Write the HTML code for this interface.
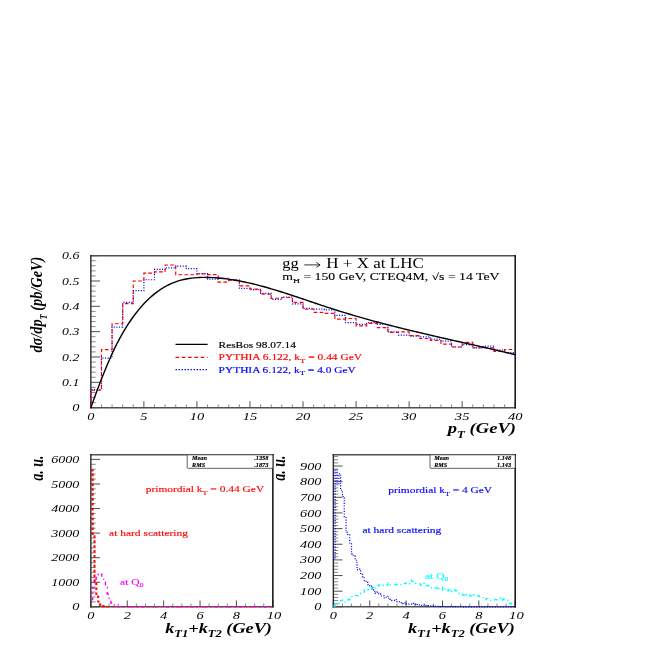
<!DOCTYPE html>
<html><head><meta charset="utf-8"><title>plot</title>
<style>html,body{margin:0;padding:0;background:#fff;overflow:hidden;width:654px;height:654px;}svg{display:block;}text{font-family:"Liberation Serif",serif;stroke-linejoin:round;}</style>
</head><body>
<svg width="654" height="654" viewBox="0 0 654 654" style="will-change:transform">
<rect width="654" height="654" fill="#fff"/>
<g id="top">
<path d="M90.85 402.58h4.8M90.85 397.52h4.8M90.85 392.45h4.8M90.85 387.38h4.8M90.85 377.25h4.8M90.85 372.18h4.8M90.85 367.12h4.8M90.85 362.05h4.8M90.85 351.92h4.8M90.85 346.85h4.8M90.85 341.78h4.8M90.85 336.72h4.8M90.85 326.58h4.8M90.85 321.52h4.8M90.85 316.45h4.8M90.85 311.38h4.8M90.85 301.25h4.8M90.85 296.18h4.8M90.85 291.12h4.8M90.85 286.05h4.8M90.85 275.92h4.8M90.85 270.85h4.8M90.85 265.78h4.8M90.85 260.72h4.8M101.46 407.65v-3.2M112.07 407.65v-3.2M122.68 407.65v-3.2M133.28 407.65v-3.2M154.5 407.65v-3.2M165.11 407.65v-3.2M175.72 407.65v-3.2M186.33 407.65v-3.2M207.55 407.65v-3.2M218.16 407.65v-3.2M228.76 407.65v-3.2M239.37 407.65v-3.2M260.59 407.65v-3.2M271.2 407.65v-3.2M281.81 407.65v-3.2M292.42 407.65v-3.2M313.63 407.65v-3.2M324.24 407.65v-3.2M334.85 407.65v-3.2M345.46 407.65v-3.2M366.68 407.65v-3.2M377.29 407.65v-3.2M387.89 407.65v-3.2M398.5 407.65v-3.2M419.72 407.65v-3.2M430.33 407.65v-3.2M440.94 407.65v-3.2M451.55 407.65v-3.2M472.76 407.65v-3.2M483.37 407.65v-3.2M493.98 407.65v-3.2M504.59 407.65v-3.2" stroke="#6a6a6a" stroke-width="0.8" fill="none"/>
<path d="M90.85 407.65h9.2M90.85 382.32h9.2M90.85 356.98h9.2M90.85 331.65h9.2M90.85 306.32h9.2M90.85 280.98h9.2M90.85 255.65h9.2M90.85 407.65v-6.4M143.89 407.65v-6.4M196.94 407.65v-6.4M249.98 407.65v-6.4M303.02 407.65v-6.4M356.07 407.65v-6.4M409.11 407.65v-6.4M462.16 407.65v-6.4M515.2 407.65v-6.4" stroke="#3c3c3c" stroke-width="0.9" fill="none"/>
<path d="M90.15 255.65H516M90.15 407.65H516" stroke="#505050" stroke-width="1.5" fill="none"/>
<path d="M90.85 254.9V408.4" stroke="#2a2a2a" stroke-width="1.4" fill="none"/>
<path d="M515.2 254.9V408.4" stroke="#1c1c1c" stroke-width="1.6" fill="none"/>
<path d="M90.85 407.65V389.56H101.46V358.16H112.07V327.19H122.68V302.41H133.28V290.65H143.89V279.73H154.5V269.4H165.11V267.89H175.72V266.2H186.33V268.65H196.94V273.54H207.55V279.23H218.16V278.47H228.76V280.11H239.37V288.3H249.98V289.66H260.59V293.34H271.2V299.44H281.81V297H292.42V303.85H303.02V308.46H313.63V309.22H324.24V309.97H334.85V315.34H345.46V322.68H356.07V324.34H366.68V322.68H377.29V324.46H387.89V331.9H398.5V335.07H409.11V336.06H419.72V336.79H430.33V339.21H440.94V341.22H451.55V347.02H462.16V344.6H472.76V347.78H483.37V346.09H493.98V350.22H504.59V352.69H515.2" stroke="#00f" stroke-width="1.2" stroke-dasharray="1.1 1.55" fill="none"/>
<path d="M90.85 407.65V390.24H101.46V349.64H112.07V323.76H122.68V303.67H133.28V280.99H143.89V273.06H154.5V271.92H165.11V264.99H175.72V274.77H186.33V274.77H196.94V273.94H207.55V274.69H218.16V282.1H228.76V280.11H239.37V285.91H249.98V289.18H260.59V294.1H271.2V298.21H281.81V297.48H292.42V302.41H303.02V309.22H313.63V312.42H324.24V313.38H334.85V319.05H345.46V318.54H356.07V325.85H366.68V323.41H377.29V327.56H387.89V332.4H398.5V331.9H409.11V335.58H419.72V338.45H430.33V340.47H440.94V344.12H451.55V347.02H462.16V342.41H472.76V347.78H483.37V347.78H493.98V351.48H504.59V349.54H515.2" stroke="#f00" stroke-width="1.15" stroke-dasharray="3.7 2.3" fill="none"/>
<path d="M90.85 407.65L93.5 400.33L96.15 393.11L98.81 386.03L101.46 379.12L104.11 372.4L106.76 365.91L109.42 359.68L112.07 353.74L114.72 348.11L117.37 342.81L120.02 337.81L122.68 333.1L125.33 328.65L127.98 324.45L130.63 320.49L133.28 316.74L135.94 313.2L138.59 309.87L141.24 306.74L143.89 303.8L146.55 301.04L149.2 298.48L151.85 296.09L154.5 293.87L157.15 291.83L159.81 289.95L162.46 288.23L165.11 286.67L167.76 285.25L170.42 283.98L173.07 282.84L175.72 281.83L178.37 280.94L181.02 280.17L183.68 279.52L186.33 278.96L188.98 278.5L191.63 278.13L194.29 277.84L196.94 277.63L199.59 277.49L202.24 277.42L204.89 277.4L207.55 277.43L210.2 277.51L212.85 277.63L215.5 277.79L218.16 277.99L220.81 278.23L223.46 278.51L226.11 278.83L228.76 279.18L231.42 279.57L234.07 279.99L236.72 280.45L239.37 280.93L242.02 281.45L244.68 281.99L247.33 282.57L249.98 283.17L252.63 283.79L255.29 284.44L257.94 285.12L260.59 285.81L263.24 286.53L265.89 287.27L268.55 288.02L271.2 288.8L273.85 289.59L276.5 290.39L279.16 291.21L281.81 292.04L284.46 292.89L287.11 293.74L289.76 294.6L292.42 295.48L295.07 296.36L297.72 297.24L300.37 298.13L303.02 299.03L305.68 299.93L308.33 300.82L310.98 301.72L313.63 302.62L316.29 303.52L318.94 304.41L321.59 305.3L324.24 306.18L326.89 307.06L329.55 307.93L332.2 308.79L334.85 309.64L337.5 310.48L340.16 311.31L342.81 312.13L345.46 312.95L348.11 313.75L350.76 314.54L353.42 315.33L356.07 316.1L358.72 316.87L361.37 317.63L364.03 318.38L366.68 319.12L369.33 319.86L371.98 320.59L374.63 321.31L377.29 322.02L379.94 322.73L382.59 323.43L385.24 324.12L387.89 324.81L390.55 325.5L393.2 326.17L395.85 326.84L398.5 327.51L401.16 328.17L403.81 328.82L406.46 329.47L409.11 330.12L411.76 330.76L414.42 331.4L417.07 332.03L419.72 332.66L422.37 333.29L425.03 333.91L427.68 334.53L430.33 335.15L432.98 335.76L435.63 336.38L438.29 336.99L440.94 337.59L443.59 338.2L446.24 338.8L448.9 339.4L451.55 340.01L454.2 340.61L456.85 341.21L459.5 341.8L462.16 342.4L464.81 343L467.46 343.6L470.11 344.2L472.76 344.79L475.42 345.39L478.07 345.99L480.72 346.59L483.37 347.2L486.03 347.8L488.68 348.4L491.33 349.01L493.98 349.62L496.63 350.23L499.29 350.84L501.94 351.46L504.59 352.08L507.24 352.7L509.9 353.32L512.55 353.95L515.2 354.59" stroke="#000" stroke-width="1.4" fill="none" stroke-linejoin="round"/>
<text transform="translate(72.2 411.2) scale(1.3714 1)" font-size="10.5" fill="#000" font-style="italic">0</text>
<text transform="translate(62.1 385.87) scale(1.3181 1)" font-size="10.5" fill="#000" font-style="italic">0.1</text>
<text transform="translate(62.1 360.53) scale(1.3181 1)" font-size="10.5" fill="#000" font-style="italic">0.2</text>
<text transform="translate(62.1 335.2) scale(1.3181 1)" font-size="10.5" fill="#000" font-style="italic">0.3</text>
<text transform="translate(62.1 309.87) scale(1.3181 1)" font-size="10.5" fill="#000" font-style="italic">0.4</text>
<text transform="translate(62.1 284.53) scale(1.3181 1)" font-size="10.5" fill="#000" font-style="italic">0.5</text>
<text transform="translate(62.1 259.2) scale(1.3181 1)" font-size="10.5" fill="#000" font-style="italic">0.6</text>
<text transform="translate(87.25 420.4) scale(1.3714 1)" font-size="10.5" fill="#000" font-style="italic">0</text>
<text transform="translate(140.29 420.4) scale(1.3714 1)" font-size="10.5" fill="#000" font-style="italic">5</text>
<text transform="translate(189.64 420.4) scale(1.3905 1)" font-size="10.5" fill="#000" font-style="italic">10</text>
<text transform="translate(242.68 420.4) scale(1.3905 1)" font-size="10.5" fill="#000" font-style="italic">15</text>
<text transform="translate(295.72 420.4) scale(1.3905 1)" font-size="10.5" fill="#000" font-style="italic">20</text>
<text transform="translate(348.77 420.4) scale(1.3905 1)" font-size="10.5" fill="#000" font-style="italic">25</text>
<text transform="translate(401.81 420.4) scale(1.3905 1)" font-size="10.5" fill="#000" font-style="italic">30</text>
<text transform="translate(454.86 420.4) scale(1.3905 1)" font-size="10.5" fill="#000" font-style="italic">35</text>
<text transform="translate(507.9 420.4) scale(1.3905 1)" font-size="10.5" fill="#000" font-style="italic">40</text>
<text transform="translate(447.8 433.2) scale(1.2814 1)" font-size="14.5" fill="#000" font-style="italic" font-weight="bold">p<tspan font-size="10" dy="5">T</tspan><tspan dy="-5"> (GeV)</tspan></text>
<text transform="translate(41.8 352.6) rotate(-90) scale(0.8947 1)" font-size="16" fill="#000" font-style="italic" font-weight="bold">dσ/dp<tspan font-size="9.5" dy="5">T</tspan><tspan dy="-5"> (pb/GeV)</tspan></text>
<text transform="translate(282.3 268.3) scale(1.2132 1)" font-size="13.6" fill="#000">gg</text>
<path d="M304.3 264.9H319.8M316.3 262.4L320.1 264.9L316.3 267.4" stroke="#000" stroke-width="0.8" fill="none"/>
<text transform="translate(326.3 268.3) scale(1.2524 1)" font-size="13.6" fill="#000">H + X at LHC</text>
<text transform="translate(282.3 279.6) scale(1.4193 1)" font-size="9.7" fill="#000" stroke="#000" stroke-width="0.1">m<tspan font-size="6.8" dy="3">H</tspan><tspan dy="-3"> = 150 GeV, CTEQ4M, √s = 14 TeV</tspan></text>
<path d="M175.5 344.3H207.6" stroke="#000" stroke-width="1.2"/>
<path d="M175.5 357.4H207.6" stroke="#f00" stroke-width="1.3" stroke-dasharray="3.6 2.7"/>
<path d="M175.5 369.6H207.6" stroke="#00f" stroke-width="1.3" stroke-dasharray="1.4 1.6"/>
<text transform="translate(218.6 347.5) scale(1.3379 1)" font-size="8.5" fill="#000" stroke="#000" stroke-width="0.16">ResBos 98.07.14</text>
<text transform="translate(218.6 360.1) scale(1.3482 1)" font-size="8.5" fill="#f00" stroke="#f00" stroke-width="0.16">PYTHIA 6.122, k<tspan font-size="6.5" dy="2.5">T</tspan><tspan dy="-2.5"> = 0.44 GeV</tspan></text>
<text transform="translate(218.6 372.6) scale(1.3436 1)" font-size="8.5" fill="#00f" stroke="#00f" stroke-width="0.16">PYTHIA 6.122, k<tspan font-size="6.5" dy="2.5">T</tspan><tspan dy="-2.5"> = 4.0 GeV</tspan></text>
</g>
<g id="bl">
<path d="M90.85 601.94h4.8M90.85 597.02h4.8M90.85 592.11h4.8M90.85 587.19h4.8M90.85 577.36h4.8M90.85 572.45h4.8M90.85 567.53h4.8M90.85 562.62h4.8M90.85 552.79h4.8M90.85 547.87h4.8M90.85 542.96h4.8M90.85 538.04h4.8M90.85 528.21h4.8M90.85 523.3h4.8M90.85 518.38h4.8M90.85 513.47h4.8M90.85 503.63h4.8M90.85 498.72h4.8M90.85 493.81h4.8M90.85 488.89h4.8M90.85 479.06h4.8M90.85 474.14h4.8M90.85 469.23h4.8M90.85 464.32h4.8M99.95 606.85v-3.3M109.05 606.85v-3.3M118.15 606.85v-3.3M136.35 606.85v-3.3M145.45 606.85v-3.3M154.55 606.85v-3.3M172.75 606.85v-3.3M181.85 606.85v-3.3M190.95 606.85v-3.3M209.15 606.85v-3.3M218.25 606.85v-3.3M227.35 606.85v-3.3M245.55 606.85v-3.3M254.65 606.85v-3.3M263.75 606.85v-3.3" stroke="#6a6a6a" stroke-width="0.8" fill="none"/>
<path d="M90.85 606.85h9.2M90.85 582.27h9.2M90.85 557.7h9.2M90.85 533.12h9.2M90.85 508.55h9.2M90.85 483.98h9.2M90.85 459.4h9.2M90.85 606.85v-6.4M127.25 606.85v-6.4M163.65 606.85v-6.4M200.05 606.85v-6.4M236.45 606.85v-6.4M272.85 606.85v-6.4" stroke="#3c3c3c" stroke-width="0.9" fill="none"/>
<path d="M90.15 454.8H273.65M90.15 606.85H273.65" stroke="#505050" stroke-width="1.5" fill="none"/>
<path d="M90.85 454.05V607.6" stroke="#2a2a2a" stroke-width="1.4" fill="none"/>
<path d="M272.85 454.05V607.6" stroke="#1c1c1c" stroke-width="1.6" fill="none"/>
<path d="M90.85 470.46H92.67V536.22H94.49V580.97H96.31V594.07H98.13V601.62H99.95V604.71H101.77V605.99H103.59V606.48H105.41V606.73H107.23" stroke="#f00" stroke-width="2" stroke-dasharray="2.6 2.3" fill="none"/>
<path d="M107.23 606.85H272.85" stroke="#f00" stroke-width="1.3" stroke-dasharray="2.6 2.3" fill="none" opacity="0.5"/>
<path d="M90.85 599.48H92.67V587.68H94.49V579.08H96.31V574.9H98.13V573.47H99.95V574.17H101.77V577.44H103.59V581.88H105.41V587.48H107.23V593.97H109.05V599.33H110.87V603.06H112.69V604.99H114.51V605.8H116.33V606.34H118.15V606.67H119.97V606.79H121.79V606.85H123.61V606.85H125.43V606.85H127.25V606.85H129.07V606.85H130.89V606.85H132.71V606.85H134.53V606.85H136.35V606.85H138.17V606.85H139.99V606.85H141.81V606.85H143.63V606.85H145.45V606.85H147.27V606.85H149.09V606.85H150.91V606.85H152.73V606.85H154.55V606.85H156.37V606.85H158.19V606.85H160.01V606.85H161.83V606.85H163.65V606.85H165.47V606.85H167.29V606.85H169.11V606.85H170.93V606.85H172.75V606.85H174.57V606.85H176.39V606.85H178.21V606.85H180.03V606.85H181.85V606.85H183.67V606.85H185.49V606.85H187.31V606.85H189.13V606.85H190.95V606.85H192.77V606.85H194.59V606.85H196.41V606.85H198.23V606.85H200.05V606.85H201.87V606.85H203.69V606.85H205.51V606.85H207.33V606.85H209.15V606.85H210.97V606.85H212.79V606.85H214.61V606.85H216.43V606.85H218.25V606.85H220.07V606.85H221.89V606.85H223.71V606.85H225.53V606.85H227.35V606.85H229.17V606.85H230.99V606.85H232.81V606.85H234.63V606.85H236.45V606.85H238.27V606.85H240.09V606.85H241.91V606.85H243.73V606.85H245.55V606.85H247.37V606.85H249.19V606.85H251.01V606.85H252.83V606.85H254.65V606.85H256.47V606.85H258.29V606.85H260.11V606.85H261.93V606.85H263.75V606.85H265.57V606.85H267.39V606.85H269.21V606.85H271.03V606.85H272.85" stroke="#f0f" stroke-width="1.4" stroke-dasharray="3.7 3.65 1.2 3.65" fill="none"/>
<rect x="187.2" y="454.8" width="85.65" height="13.5" fill="#fff" stroke="#3a3a3a" stroke-width="0.8" rx="0.8"/>
<text transform="translate(192.1 459.6) scale(1.1913 1)" font-size="5.2" fill="#000" font-style="italic" font-weight="bold" stroke="#000" stroke-width="0.15">Mean</text>
<text transform="translate(192.1 466.9) scale(1.1835 1)" font-size="5.2" fill="#000" font-style="italic" font-weight="bold" stroke="#000" stroke-width="0.15">RMS</text>
<text transform="translate(254.2 459.6) scale(1.2137 1)" font-size="5.2" fill="#000" font-style="italic" font-weight="bold" stroke="#000" stroke-width="0.15">.1358</text>
<text transform="translate(254.2 466.9) scale(1.2137 1)" font-size="5.2" fill="#000" font-style="italic" font-weight="bold" stroke="#000" stroke-width="0.15">.1873</text>
<text transform="translate(72.2 610.4) scale(1.3714 1)" font-size="10.5" fill="#000" font-style="italic">0</text>
<text transform="translate(51.2 585.82) scale(1.3429 1)" font-size="10.5" fill="#000" font-style="italic">1000</text>
<text transform="translate(51.2 561.25) scale(1.3429 1)" font-size="10.5" fill="#000" font-style="italic">2000</text>
<text transform="translate(51.2 536.67) scale(1.3429 1)" font-size="10.5" fill="#000" font-style="italic">3000</text>
<text transform="translate(51.2 512.1) scale(1.3429 1)" font-size="10.5" fill="#000" font-style="italic">4000</text>
<text transform="translate(51.2 487.53) scale(1.3429 1)" font-size="10.5" fill="#000" font-style="italic">5000</text>
<text transform="translate(51.2 462.95) scale(1.3429 1)" font-size="10.5" fill="#000" font-style="italic">6000</text>
<text transform="translate(87.25 618.9) scale(1.3714 1)" font-size="10.5" fill="#000" font-style="italic">0</text>
<text transform="translate(123.65 618.9) scale(1.3714 1)" font-size="10.5" fill="#000" font-style="italic">2</text>
<text transform="translate(160.05 618.9) scale(1.3714 1)" font-size="10.5" fill="#000" font-style="italic">4</text>
<text transform="translate(196.45 618.9) scale(1.3714 1)" font-size="10.5" fill="#000" font-style="italic">6</text>
<text transform="translate(232.85 618.9) scale(1.3714 1)" font-size="10.5" fill="#000" font-style="italic">8</text>
<text transform="translate(266.75 618.9) scale(1.3905 1)" font-size="10.5" fill="#000" font-style="italic">10</text>
<text transform="translate(165.2 632.5) scale(1.2588 1)" font-size="14.5" fill="#000" font-style="italic" font-weight="bold">k<tspan font-size="10" dy="4.8">T1</tspan><tspan dy="-4.8">+k</tspan><tspan font-size="10" dy="4.8">T2</tspan><tspan dy="-4.8"> (GeV)</tspan></text>
<text transform="translate(43 480.8) rotate(-90) scale(0.7782 1)" font-size="18" fill="#000" font-style="italic" font-weight="bold">a. u.</text>
<text transform="translate(145.7 492.3) scale(1.2449 1)" font-size="9.2" fill="#f00" stroke="#f00" stroke-width="0.14">primordial k<tspan font-size="6.5" dy="2.4">T</tspan><tspan dy="-2.4"> = 0.44 GeV</tspan></text>
<text transform="translate(109.1 536.1) scale(1.2471 1)" font-size="9.2" fill="#f00" stroke="#f00" stroke-width="0.14">at hard scattering</text>
<text transform="translate(120.1 585) scale(1.2592 1)" font-size="9.2" fill="#f0f" stroke="#f0f" stroke-width="0.14">at Q<tspan font-size="6" dy="2">0</tspan></text>
</g>
<g id="br">
<path d="M333.35 603.72h4.8M333.35 600.59h4.8M333.35 597.46h4.8M333.35 594.33h4.8M333.35 588.07h4.8M333.35 584.94h4.8M333.35 581.81h4.8M333.35 578.68h4.8M333.35 572.42h4.8M333.35 569.29h4.8M333.35 566.16h4.8M333.35 563.03h4.8M333.35 556.77h4.8M333.35 553.64h4.8M333.35 550.51h4.8M333.35 547.38h4.8M333.35 541.12h4.8M333.35 537.99h4.8M333.35 534.86h4.8M333.35 531.73h4.8M333.35 525.47h4.8M333.35 522.34h4.8M333.35 519.21h4.8M333.35 516.08h4.8M333.35 509.82h4.8M333.35 506.69h4.8M333.35 503.56h4.8M333.35 500.43h4.8M333.35 494.17h4.8M333.35 491.04h4.8M333.35 487.91h4.8M333.35 484.78h4.8M333.35 478.52h4.8M333.35 475.39h4.8M333.35 472.26h4.8M333.35 469.13h4.8M333.35 462.87h4.8M333.35 459.74h4.8M333.35 456.61h4.8M342.44 606.85v-3.3M351.54 606.85v-3.3M360.63 606.85v-3.3M378.81 606.85v-3.3M387.91 606.85v-3.3M397 606.85v-3.3M415.18 606.85v-3.3M424.28 606.85v-3.3M433.37 606.85v-3.3M451.55 606.85v-3.3M460.65 606.85v-3.3M469.74 606.85v-3.3M487.92 606.85v-3.3M497.02 606.85v-3.3M506.11 606.85v-3.3" stroke="#6a6a6a" stroke-width="0.8" fill="none"/>
<path d="M333.35 606.85h9.2M333.35 591.2h9.2M333.35 575.55h9.2M333.35 559.9h9.2M333.35 544.25h9.2M333.35 528.6h9.2M333.35 512.95h9.2M333.35 497.3h9.2M333.35 481.65h9.2M333.35 466h9.2M333.35 606.85v-6.4M369.72 606.85v-6.4M406.09 606.85v-6.4M442.46 606.85v-6.4M478.83 606.85v-6.4M515.2 606.85v-6.4" stroke="#3c3c3c" stroke-width="0.9" fill="none"/>
<path d="M332.65 454.8H516M332.65 606.85H516" stroke="#505050" stroke-width="1.5" fill="none"/>
<path d="M333.35 454.05V607.6" stroke="#2a2a2a" stroke-width="1.4" fill="none"/>
<path d="M515.2 454.05V607.6" stroke="#1c1c1c" stroke-width="1.6" fill="none"/>
<path d="M333.35 559.12H335.17V469.76H336.99V484H338.81V473.83H340.62V490.26H342.44V496.52H344.26V516.71H346.08V532.33H347.9V534.64H349.72V543.87H351.54V553.93H353.35V556.21H355.17V560.24H356.99V569.61H358.81V569.11H360.63V574.36H362.45V576.66H364.26V580.7H366.08V582.37H367.9V584.66H369.72V586.16H371.54V588.54H373.36V591.27H375.18V593.07H376.99V592.2H378.81V593.81H380.63V596H382.45V595.74H384.27V597.98H386.09V596.41H387.91V598.23H389.72V599.47H391.54V600.46H393.36V600.44H395.18V599.6H397V601.63H398.82V601.74H400.63V602.61H402.45V603.53H404.27V602.83H406.09V603.88H407.91V604.17H409.73V604.13H411.55V603.38H413.36V604.19H415.18V604.64H417V604.43H418.82V604.88H420.64V605.32H422.46V605H424.28V605.32H426.09V605.86H427.91V605.72H429.73V605.89H431.55V605.83H433.37V606.07H435.19V606.39H437V606.25H438.82V606.55H440.64V606.5H442.46V606.46H444.28V606.63H446.1V606.6H447.92V606.7H449.73V606.65H451.55V606.67H453.37V606.71H455.19V606.7H457.01V606.76H458.83V606.75H460.65V606.77H462.46V606.79H464.28V606.81H466.1V606.82H467.92V606.84H469.74V606.85H471.56V606.85H473.37V606.85H475.19V606.85H477.01V606.85H478.83V606.85H480.65V606.85H482.47V606.85H484.29V606.85H486.1V606.85H487.92V606.85H489.74V606.85H491.56V606.85H493.38V606.85H495.2V606.85H497.02V606.85H498.83V606.85H500.65V606.85H502.47V606.85H504.29V606.85H506.11V606.85H507.93V606.85H509.74V606.85H511.56V606.85H513.38V606.85H515.2" stroke="#00f" stroke-width="1.2" stroke-dasharray="1.1 1.55" fill="none"/>
<path d="M333.35 606.09H335.17V605.18H336.99V603.83H338.81V602.75H340.62V600.67H342.44V599.83H344.26V601.91H346.08V601.09H347.9V599.76H349.72V598.62H351.54V596.64H353.35V595.41H355.17V595.66H356.99V595.67H358.81V593.61H360.63V593.25H362.45V592.04H364.26V590.17H366.08V590.54H367.9V589.74H369.72V587.98H371.54V587.36H373.36V589.08H375.18V585.76H376.99V585.75H378.81V584.9H380.63V584.54H382.45V585.31H384.27V584.66H386.09V585.05H387.91V582.91H389.72V584.88H391.54V584.86H393.36V584.38H395.18V584.43H397V583.61H398.82V584.39H400.63V584.37H402.45V583.64H404.27V583.6H406.09V582.49H407.91V583.44H409.73V580.31H411.55V581.33H413.36V583.4H415.18V583.5H417V583.63H418.82V584.04H420.64V585.33H422.46V583.29H424.28V583.2H426.09V585.4H427.91V585.73H429.73V587.49H431.55V587.82H433.37V587.38H435.19V588.03H437V586.48H438.82V589.16H440.64V590.03H442.46V587.27H444.28V589.19H446.1V590.96H447.92V590.06H449.73V592.31H451.55V591.05H453.37V589.96H455.19V590.82H457.01V591.86H458.83V593.82H460.65V593.88H462.46V594.95H464.28V593.25H466.1V594.45H467.92V593.98H469.74V595.91H471.56V596.66H473.37V595.06H475.19V594.93H477.01V595.85H478.83V596.48H480.65V596.91H482.47V597.65H484.29V599.65H486.1V598.65H487.92V599.21H489.74V600.33H491.56V600.34H493.38V599.47H495.2V599.76H497.02V598.71H498.83V598.25H500.65V600.45H502.47V599.23H504.29V599.62H506.11V600.39H507.93V602.65H509.74V603.54H511.56V604.06H513.38V604.63H515.2" stroke="#0ff" stroke-width="1.4" stroke-dasharray="3.7 3.65 1.2 3.65" fill="none"/>
<rect x="430" y="454.8" width="85.2" height="13.5" fill="#fff" stroke="#3a3a3a" stroke-width="0.8" rx="0.8"/>
<text transform="translate(434.2 459.6) scale(1.1913 1)" font-size="5.2" fill="#000" font-style="italic" font-weight="bold" stroke="#000" stroke-width="0.15">Mean</text>
<text transform="translate(434.2 466.9) scale(1.1835 1)" font-size="5.2" fill="#000" font-style="italic" font-weight="bold" stroke="#000" stroke-width="0.15">RMS</text>
<text transform="translate(497 459.6) scale(1.2137 1)" font-size="5.2" fill="#000" font-style="italic" font-weight="bold" stroke="#000" stroke-width="0.15">1.146</text>
<text transform="translate(497 466.9) scale(1.2137 1)" font-size="5.2" fill="#000" font-style="italic" font-weight="bold" stroke="#000" stroke-width="0.15">1.143</text>
<text transform="translate(314.2 610.4) scale(1.3714 1)" font-size="10.5" fill="#000" font-style="italic">0</text>
<text transform="translate(300 594.75) scale(1.3587 1)" font-size="10.5" fill="#000" font-style="italic">100</text>
<text transform="translate(300 579.1) scale(1.3587 1)" font-size="10.5" fill="#000" font-style="italic">200</text>
<text transform="translate(300 563.45) scale(1.3587 1)" font-size="10.5" fill="#000" font-style="italic">300</text>
<text transform="translate(300 547.8) scale(1.3587 1)" font-size="10.5" fill="#000" font-style="italic">400</text>
<text transform="translate(300 532.15) scale(1.3587 1)" font-size="10.5" fill="#000" font-style="italic">500</text>
<text transform="translate(300 516.5) scale(1.3587 1)" font-size="10.5" fill="#000" font-style="italic">600</text>
<text transform="translate(300 500.85) scale(1.3587 1)" font-size="10.5" fill="#000" font-style="italic">700</text>
<text transform="translate(300 485.2) scale(1.3587 1)" font-size="10.5" fill="#000" font-style="italic">800</text>
<text transform="translate(300 469.55) scale(1.3587 1)" font-size="10.5" fill="#000" font-style="italic">900</text>
<text transform="translate(329.75 618.9) scale(1.3714 1)" font-size="10.5" fill="#000" font-style="italic">0</text>
<text transform="translate(366.12 618.9) scale(1.3714 1)" font-size="10.5" fill="#000" font-style="italic">2</text>
<text transform="translate(402.49 618.9) scale(1.3714 1)" font-size="10.5" fill="#000" font-style="italic">4</text>
<text transform="translate(438.86 618.9) scale(1.3714 1)" font-size="10.5" fill="#000" font-style="italic">6</text>
<text transform="translate(475.23 618.9) scale(1.3714 1)" font-size="10.5" fill="#000" font-style="italic">8</text>
<text transform="translate(509.1 618.9) scale(1.3905 1)" font-size="10.5" fill="#000" font-style="italic">10</text>
<text transform="translate(408.1 632.5) scale(1.2588 1)" font-size="14.5" fill="#000" font-style="italic" font-weight="bold">k<tspan font-size="10" dy="4.8">T1</tspan><tspan dy="-4.8">+k</tspan><tspan font-size="10" dy="4.8">T2</tspan><tspan dy="-4.8"> (GeV)</tspan></text>
<text transform="translate(285.4 480.8) rotate(-90) scale(0.7782 1)" font-size="18" fill="#000" font-style="italic" font-weight="bold">a. u.</text>
<text transform="translate(388.2 493.4) scale(1.2416 1)" font-size="9.2" fill="#00f" stroke="#00f" stroke-width="0.14">primordial k<tspan font-size="6.5" dy="2.4">T</tspan><tspan dy="-2.4"> = 4 GeV</tspan></text>
<text transform="translate(362.5 532.9) scale(1.2471 1)" font-size="9.2" fill="#00f" stroke="#00f" stroke-width="0.14">at hard scattering</text>
<text transform="translate(424.9 578.7) scale(1.2592 1)" font-size="9.2" fill="#0ff" stroke="#0ff" stroke-width="0.14">at Q<tspan font-size="6" dy="2">0</tspan></text>
</g>
</svg></body></html>
